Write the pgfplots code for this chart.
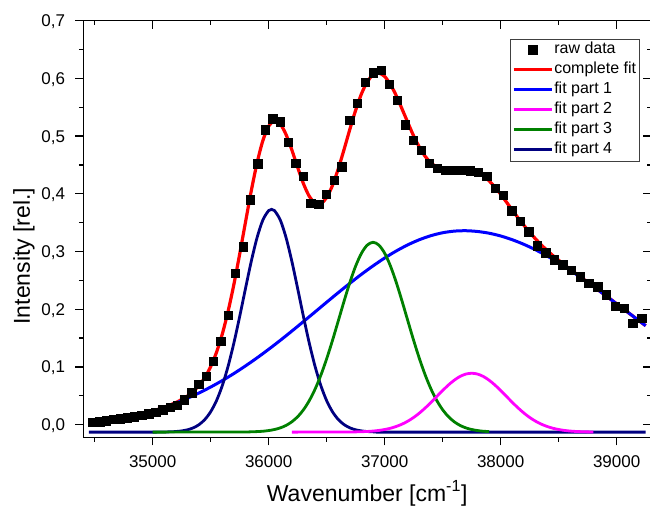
\documentclass[border=0pt]{standalone}
\usepackage{fontspec}
\setmainfont{Liberation Sans}
\usepackage{pgfplots}
\pgfplotsset{compat=1.18}
\definecolor{cred}{RGB}{255,0,0}
\definecolor{cblue}{RGB}{0,0,255}
\definecolor{cmag}{RGB}{255,0,255}
\definecolor{cgreen}{RGB}{0,128,0}
\definecolor{cnavy}{RGB}{0,0,128}
\pgfplotsset{
  base/.style={
    at={(0,0)}, anchor=south west, scale only axis,
    width=567.7pt, height=416.6pt,
    xmin=34402, xmax=39296, ymin=-0.022, ymax=0.7,
    xtick={35000,36000,37000,38000,39000},
    minor xtick={34500,35500,36500,37500,38500},
    ytick={0,0.1,0.2,0.3,0.4,0.5,0.6,0.7},
    minor ytick={0.05,0.15,0.25,0.35,0.45,0.55,0.65},
    scaled x ticks=false, scaled y ticks=false,
    major tick length=8pt, minor tick length=4.5pt,
    tick style={black, line width=1.3pt},
    axis line style={line width=1.5pt},
    /pgf/number format/assume math mode=true,
  }
}
\begin{document}
\begin{tikzpicture}
\path[use as bounding box] (-83.3pt,-70.7pt) rectangle (566.7pt,437.3pt);
\begin{axis}[base,
  xtick pos=left, ytick pos=left, tick align=outside,
  tick label style={font=\fontsize{17}{20}\selectfont},
  xticklabel style={/pgf/number format/1000 sep={}, inner sep=0pt, anchor=north, yshift=-9.7pt},
  yticklabel style={/pgf/number format/.cd, fixed, fixed zerofill, precision=1, use comma, /tikz/.cd, text depth=0pt, inner sep=0pt, anchor=east, xshift=-10pt},
  xlabel={Wavenumber [cm\textsuperscript{-1}]},
  ylabel={Intensity [rel.]},
  xlabel style={font=\fontsize{23}{26}\selectfont, at={(axis description cs:0.5,0)}, anchor=base, yshift=-63.7pt},
  ylabel style={font=\fontsize{23}{26}\selectfont, at={(axis description cs:-0.0939,0.435)}, anchor=base},
  legend style={at={(rel axis cs:0.9794,0.9568)}, anchor=north east, draw=black!75,
    font=\fontsize{16}{18}\selectfont, inner xsep=2pt, inner ysep=1pt, row sep=0pt,
    nodes={inner sep=1pt, text height=13pt, text depth=5pt}},
  legend cell align=left,
  legend image code/.code={\draw[mark repeat=2,mark phase=2,#1] plot coordinates {(0pt,0pt) (19pt,0pt) (38pt,0pt)};},
]
\addlegendimage{only marks, mark=square*, mark size=4.2pt, black}
\addlegendentry{raw data}
\addlegendimage{color=cred, line width=3.2pt}
\addlegendentry{complete fit}
\addlegendimage{color=cblue, line width=3pt}
\addlegendentry{fit part 1}
\addlegendimage{color=cmag, line width=3pt}
\addlegendentry{fit part 2}
\addlegendimage{color=cgreen, line width=3pt}
\addlegendentry{fit part 3}
\addlegendimage{color=cnavy, line width=3pt}
\addlegendentry{fit part 4}

% raw data
\addplot[forget plot, only marks, mark=square*, mark size=4.2pt, black] coordinates {
(34483,0.004) (34542,0.005) (34602,0.007) (34662,0.009) (34722,0.010) (34783,0.012)
(34843,0.014) (34904,0.016) (34965,0.019) (35026,0.022) (35088,0.026) (35149,0.030)
(35211,0.034) (35273,0.043) (35336,0.055) (35398,0.070) (35461,0.084) (35524,0.110)
(35587,0.145) (35651,0.190) (35714,0.262) (35778,0.308) (35842,0.390) (35907,0.452)
(35971,0.511) (36036,0.530) (36101,0.525) (36166,0.489) (36232,0.453) (36298,0.430)
(36364,0.384) (36430,0.382) (36496,0.399) (36563,0.424) (36630,0.447) (36697,0.528)
(36765,0.557) (36832,0.593) (36900,0.610) (36969,0.614) (37037,0.590) (37106,0.562)
(37175,0.520) (37244,0.493) (37313,0.476) (37383,0.453) (37453,0.444) (37523,0.441)
(37594,0.441) (37665,0.441) (37736,0.440) (37807,0.437) (37879,0.431) (37951,0.410)
(38023,0.398) (38095,0.371) (38168,0.352) (38241,0.334) (38314,0.310) (38388,0.298)
(38462,0.286) (38536,0.277) (38610,0.268) (38685,0.256) (38760,0.245) (38835,0.239)
(38911,0.225) (38986,0.205) (39063,0.202) (39139,0.176) (39216,0.184)
};

% complete fit
\addplot[forget plot, color=cred, line width=3.2pt, smooth] coordinates {
(34450,0.0001) (34500,0.0014) (34600,0.0046) (34700,0.0083) (34800,0.0126) (34900,0.0176)
(35000,0.0233) (35050,0.0267) (35100,0.0301) (35150,0.0341) (35200,0.0383) (35250,0.0435)
(35300,0.0496) (35350,0.0576) (35400,0.0679) (35450,0.0819) (35500,0.1004) (35550,0.1251)
(35600,0.1568) (35650,0.1963) (35700,0.2428) (35750,0.2954) (35800,0.3506) (35850,0.4051)
(35900,0.4536) (35950,0.4922) (36000,0.5171) (36050,0.5266) (36100,0.5209) (36150,0.5026)
(36200,0.4759) (36250,0.4457) (36300,0.4175) (36350,0.3957) (36400,0.3836) (36450,0.3829)
(36500,0.3936) (36550,0.4145) (36600,0.4434) (36650,0.4768) (36700,0.5119) (36750,0.5449)
(36800,0.5733) (36850,0.5940) (36900,0.6064) (36950,0.6091) (37000,0.6033) (37050,0.5893)
(37100,0.5701) (37150,0.5469) (37200,0.5233) (37250,0.5002) (37300,0.4807) (37350,0.4646)
(37400,0.4535) (37450,0.4464) (37500,0.4433) (37550,0.4423) (37600,0.4432) (37650,0.4439)
(37700,0.4439) (37750,0.4419) (37800,0.4380) (37850,0.4312) (37900,0.4226) (37950,0.4115)
(38000,0.3992) (38050,0.3856) (38100,0.3720) (38150,0.3583) (38200,0.3455) (38250,0.3331)
(38300,0.3220) (38350,0.3114) (38400,0.3020) (38450,0.2929) (38500,0.2848) (38550,0.2767)
(38600,0.2692) (38650,0.2616) (38700,0.2543) (38750,0.2468) (38800,0.2395) (38900,0.2245)
(39000,0.2093) (39100,0.1941) (39200,0.1789) (39250,0.1714)
};

% fit part 1
\addplot[forget plot, color=cblue, line width=3pt, smooth] coordinates {
(34450,0.0001) (34500,0.0014) (34600,0.0046) (34700,0.0083) (34800,0.0126) (34900,0.0176)
(35000,0.0233) (35100,0.0299) (35200,0.0373) (35300,0.0456) (35400,0.0549) (35500,0.0651)
(35600,0.0763) (35700,0.0885) (35800,0.1017) (35900,0.1157) (36000,0.1305) (36100,0.1460)
(36200,0.1621) (36300,0.1786) (36400,0.1953) (36500,0.2121) (36600,0.2287) (36700,0.2449)
(36800,0.2605) (36900,0.2751) (37000,0.2887) (37100,0.3009) (37200,0.3116) (37300,0.3205)
(37400,0.3275) (37500,0.3325) (37600,0.3353) (37700,0.3360) (37800,0.3347) (37900,0.3317)
(38000,0.3269) (38100,0.3204) (38200,0.3124) (38300,0.3030) (38400,0.2922) (38500,0.2803)
(38600,0.2674) (38700,0.2536) (38800,0.2393) (38900,0.2244) (39000,0.2093) (39100,0.1941)
(39200,0.1789) (39250,0.1714)
};

% fit part 4
\addplot[forget plot, color=cnavy, line width=2.8pt, smooth] coordinates {
(34450,-0.0130) (35000,-0.0130) (35050,-0.0129) (35100,-0.0128) (35150,-0.0125) (35200,-0.0120)
(35250,-0.0109) (35300,-0.0090) (35350,-0.0056) (35400,0.0000) (35450,0.0089) (35500,0.0223)
(35550,0.0414) (35600,0.0675) (35650,0.1009) (35700,0.1413) (35750,0.1872) (35800,0.2357)
(35850,0.2829) (35900,0.3240) (35950,0.3546) (36000,0.3709) (36025,0.3730) (36050,0.3709)
(36100,0.3546) (36150,0.3240) (36200,0.2829) (36250,0.2357) (36300,0.1872) (36350,0.1413)
(36400,0.1009) (36450,0.0675) (36500,0.0414) (36550,0.0223) (36600,0.0089) (36650,0.0000)
(36700,-0.0056) (36750,-0.0090) (36800,-0.0109) (36850,-0.0120) (36900,-0.0125) (36950,-0.0128)
(37000,-0.0129) (37050,-0.0130) (39250,-0.0130)
};

% fit part 3
\addplot[forget plot, color=cgreen, line width=2.8pt, smooth] coordinates {
(35000,-0.0130) (35750,-0.0129) (35800,-0.0128) (35850,-0.0125) (35900,-0.0121) (35950,-0.0115)
(36000,-0.0103) (36050,-0.0085) (36100,-0.0057) (36150,-0.0014) (36200,0.0049) (36250,0.0137)
(36300,0.0257) (36350,0.0415) (36400,0.0614) (36450,0.0857) (36500,0.1141) (36550,0.1458)
(36600,0.1797) (36650,0.2139) (36700,0.2464) (36750,0.2748) (36800,0.2970) (36850,0.3111)
(36900,0.3160) (36950,0.3111) (37000,0.2970) (37050,0.2748) (37100,0.2464) (37150,0.2139)
(37200,0.1797) (37250,0.1458) (37300,0.1141) (37350,0.0857) (37400,0.0614) (37450,0.0415)
(37500,0.0257) (37550,0.0137) (37600,0.0049) (37650,-0.0014) (37700,-0.0057) (37750,-0.0085)
(37800,-0.0103) (37850,-0.0115) (37900,-0.0121)
};

% fit part 2
\addplot[forget plot, color=cmag, line width=2.8pt, smooth] coordinates {
(36200,-0.0130) (36600,-0.0129) (36650,-0.0129) (36700,-0.0128) (36750,-0.0126) (36800,-0.0123)
(36850,-0.0119) (36900,-0.0112) (36950,-0.0101) (37000,-0.0085) (37050,-0.0063) (37100,-0.0032)
(37150,0.0008) (37200,0.0060) (37250,0.0124) (37300,0.0201) (37350,0.0289) (37400,0.0386)
(37450,0.0489) (37500,0.0591) (37550,0.0687) (37600,0.0770) (37650,0.0835) (37700,0.0876)
(37750,0.0890) (37800,0.0876) (37850,0.0835) (37900,0.0770) (37950,0.0687) (38000,0.0591)
(38050,0.0489) (38100,0.0386) (38150,0.0289) (38200,0.0201) (38250,0.0124) (38300,0.0060)
(38350,0.0008) (38400,-0.0032) (38450,-0.0063) (38500,-0.0085) (38550,-0.0101) (38600,-0.0112)
(38650,-0.0119) (38700,-0.0123) (38750,-0.0126) (38800,-0.0128)
};
\end{axis}
\begin{axis}[base,
  xtick pos=right, ytick pos=right, tick align=inside,
  xticklabels={}, yticklabels={},
]
\end{axis}
\end{tikzpicture}
\end{document}
